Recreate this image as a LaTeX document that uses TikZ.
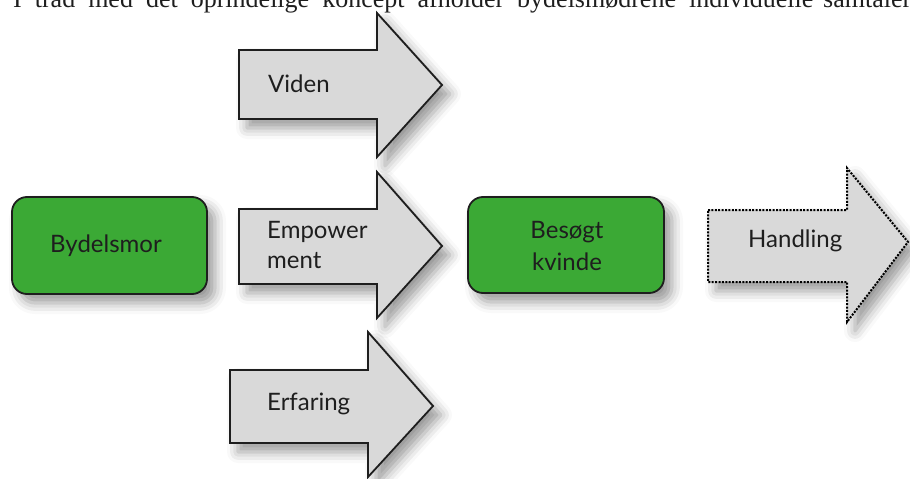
\documentclass[tikz,border=0pt]{standalone}
\usepackage{fontspec}
\setmainfont{Lato}
\newfontfamily\serifbody{Liberation Serif}
\usetikzlibrary{shadows.blur}
\definecolor{boxgreen}{RGB}{59,169,53}
\definecolor{arrowgray}{RGB}{217,217,217}
\definecolor{inkdark}{RGB}{30,30,30}
\tikzset{
  softshadow/.style={blur shadow={shadow xshift=8pt, shadow yshift=-9pt, shadow blur radius=11pt, shadow opacity=40}},
  greenbox/.style={draw=inkdark, line width=1.8pt, fill=boxgreen, rounded corners=15pt, softshadow},
  grayarrow/.style={draw=inkdark, line width=1.8pt, fill=arrowgray, line join=miter, softshadow},
  dotarrow/.style={draw=black, line width=2pt, fill=arrowgray, dash pattern=on 2pt off 1.4pt, softshadow},
  lbl/.style={font=\fontsize{24}{30}\selectfont, text=inkdark, inner sep=0pt},
  toptext/.style={font=\serifbody\fontsize{26}{30}\selectfont, text=inkdark, inner sep=0pt, anchor=base west}
}
\newcommand{\arrowshape}[9]{%
  \path[#1] (#2,#3) -- (#5,#3) -- (#5,#6) -- (#8,#9) -- (#5,#7) -- (#5,#4) -- (#2,#4) -- cycle;}
\begin{document}
\begin{tikzpicture}[x=1pt,y=-1pt]
\useasboundingbox (0,0) rectangle (910,479);
% cut-off line of running text above
\node[toptext] (topline) at (13,7) {\makebox[800pt][s]{I tråd med det oprindelige koncept afholder bydelsmødrene individuelle}};
\node[toptext] (topline2) at (823,7) {samtaler};
% green boxes
\path[greenbox] (12,197) rectangle (207,294);
\node[lbl] (bydelsmor) at (106,246) {Bydelsmor};
\path[greenbox] (468,197) rectangle (664,293);
\node[lbl, align=center, font=\fontsize{24}{32}\selectfont] (besogt) at (567,246) {Besøgt\\kvinde};
% gray arrows
\arrowshape{grayarrow}{239}{50}{119}{377}{13}{157}{442}{85}
\node[lbl, anchor=west] (viden) at (268,84) {Viden};
\arrowshape{grayarrow}{239}{209}{284}{377}{172}{318}{442}{246}
\node[lbl, anchor=west, align=left] (empower) at (267,245) {Empower\\ment};
\arrowshape{grayarrow}{230}{370}{443}{368}{332}{477}{433}{406}
\node[lbl, anchor=west] (erfaring) at (267,404) {Erfaring};
\arrowshape{dotarrow}{708}{210}{282}{847}{168}{322}{908}{242}
\node[lbl, anchor=west] (handling) at (748,241) {Handling};
\end{tikzpicture}
\end{document}
